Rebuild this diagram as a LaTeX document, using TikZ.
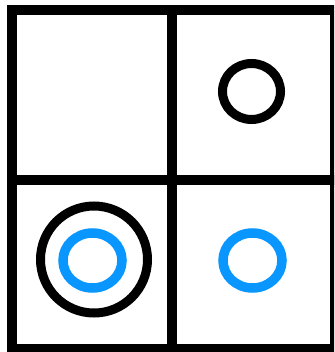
\documentclass[tikz,border=0pt]{standalone}
\definecolor{ringblue}{RGB}{10,150,255}
\begin{document}
\begin{tikzpicture}[x=1pt,y=1pt,
  gridline/.style={line width=10pt, black, line join=miter},
  blackring/.style={line width=9pt, black},
  bluering/.style={line width=9.5pt, ringblue}]
\useasboundingbox (0,0) rectangle (334,-352);
\clip (0,0) rectangle (334,-352);
\fill[white] (0,0) rectangle (334,-352);
% frame and dividers
\draw[gridline] (12,-10) rectangle (335,-349);
\draw[gridline] (172,-10) -- (172,-349);
\draw[gridline] (12,-180) -- (335,-180);
% top right
\draw[blackring] (251.5,-91.5) ellipse [x radius=29, y radius=28];
% bottom left
\draw[blackring] (94,-259.5) circle [radius=53.5];
\draw[bluering] (92.5,-260.5) ellipse [x radius=29.5, y radius=27.5];
% bottom right
\draw[bluering] (252.5,-260.5) ellipse [x radius=29.5, y radius=27.5];
\end{tikzpicture}
\end{document}
